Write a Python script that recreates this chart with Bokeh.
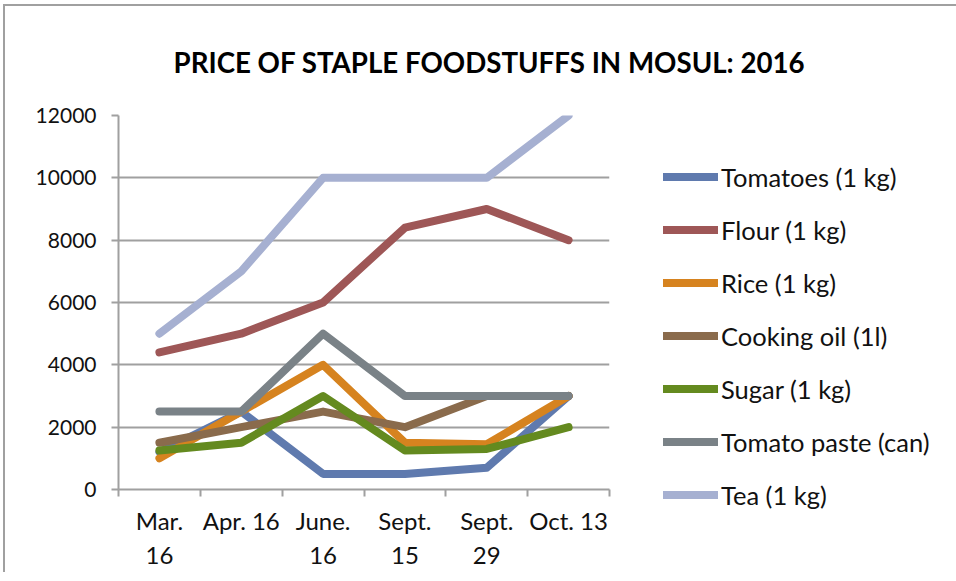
from bokeh.plotting import figure
from bokeh.models import FixedTicker, Legend, LegendItem, Title, Range1d
from bokeh.embed import file_html
from bokeh.resources import INLINE

dates = ["Mar.\n16", "Apr. 16", "June.\n16", "Sept.\n15", "Sept.\n29", "Oct. 13"]
tomatoes = [1200, 2500, 500, 500, 700, 3000]
flour = [4400, 5000, 6000, 8400, 9000, 8000]
rice = [1000, 2500, 4000, 1500, 1450, 3000]
cooking_oil = [1500, 2000, 2500, 2000, 3000, 3000]
sugar = [1250, 1500, 3000, 1250, 1300, 2000]
tomato_paste = [2500, 2500, 5000, 3000, 3000, 3000]
tea = [5000, 7000, 10000, 10000, 10000, 12000]
y_ticks = [0, 2000, 4000, 6000, 8000, 10000, 12000]

series = [
    ("Tomatoes (1 kg)", tomatoes, "#5f7aae"),
    ("Flour (1 kg)", flour, "#9e5757"),
    ("Rice (1 kg)", rice, "#d6831f"),
    ("Cooking oil (1l)", cooking_oil, "#8a6b4c"),
    ("Sugar (1 kg)", sugar, "#648a1f"),
    ("Tomato paste (can)", tomato_paste, "#7a8287"),
    ("Tea (1 kg)", tea, "#a6b0d1"),
]

FONT = "Lato"
xs = list(range(len(dates)))

p = figure(frame_width=491, frame_height=374, output_backend="svg", toolbar_location=None,
           x_range=Range1d(-0.5, len(dates) - 0.5), y_range=Range1d(0, 12000),
           min_border_left=113, min_border_top=100, min_border_right=330, min_border_bottom=70)
p.outline_line_color = None
p.background_fill_color = "white"

items = []
for name, vals, col in series:
    r = p.line(xs, vals, line_color=col, line_width=8, line_join="round", line_cap="round")
    items.append(LegendItem(label=name, renderers=[r]))

legend = Legend(items=items, location=(54, -21), margin=0, padding=0,
                border_line_color=None, background_fill_alpha=0,
                glyph_width=55, glyph_height=31, label_height=31, spacing=22,
                label_standoff=3, label_text_font=FONT, label_text_font_size="25.5px",
                label_text_color="#111111")
p.add_layout(legend, "right")

title = Title(text="PRICE OF STAPLE FOODSTUFFS IN MOSUL: 2016", align="left",
              text_font=FONT, text_font_size="27.7px", text_font_style="bold",
              text_color="#000000", offset=55, standoff=74)
p.add_layout(title, "above")

# x axis
xa = p.xaxis[0]
xa.ticker = FixedTicker(ticks=xs, minor_ticks=[i - 0.5 for i in range(len(dates) + 1)])
xa.major_label_overrides = {i: d for i, d in enumerate(dates)}
xa.major_tick_line_color = None
xa.minor_tick_line_color = "#a0a0a0"
xa.minor_tick_line_width = 2
xa.minor_tick_out = 7
xa.minor_tick_in = 0
xa.axis_line_color = "#a0a0a0"
xa.axis_line_width = 2
xa.major_label_text_font = FONT
xa.major_label_text_font_size = "24px"
xa.major_label_text_color = "#111111"
xa.major_label_standoff = 9

ya = p.yaxis[0]
ya.ticker = FixedTicker(ticks=y_ticks)
ya.minor_tick_line_color = None
ya.major_tick_line_color = "#a0a0a0"
ya.major_tick_line_width = 2
ya.major_tick_out = 7
ya.major_tick_in = 0
ya.axis_line_color = "#a0a0a0"
ya.axis_line_width = 2
ya.major_label_text_font = FONT
ya.major_label_text_font_size = "21px"
ya.major_label_text_color = "#111111"
ya.major_label_standoff = 15

p.xgrid.grid_line_color = None
p.ygrid.grid_line_color = "#a0a0a0"
p.ygrid.grid_line_width = 2

p.styles = {"margin-left": "3px", "margin-top": "4px",
            "border-left": "2px solid #a0a0a0", "border-top": "2px solid #a0a0a0"}

open("out.html", "w").write(file_html(p, INLINE))
